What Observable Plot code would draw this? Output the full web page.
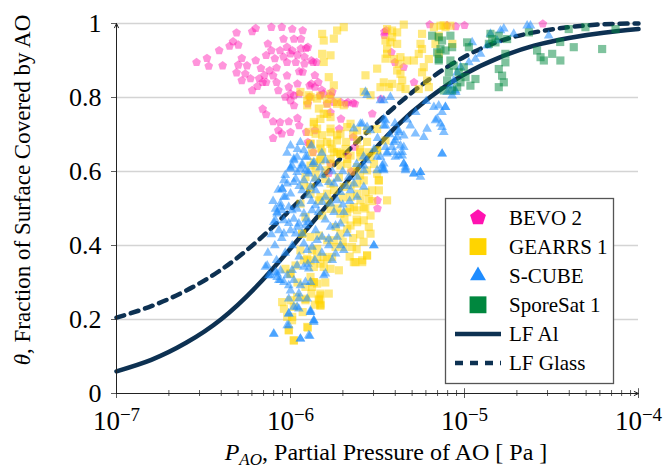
<!DOCTYPE html>
<html><head><meta charset="utf-8">
<script src="https://cdn.jsdelivr.net/npm/d3@7"></script>
<script src="https://cdn.jsdelivr.net/npm/@observablehq/plot@0.6"></script>
<style>
body{margin:0;background:#fff;}
#chart{position:relative;width:664px;height:468px;}
</style></head><body><div id="chart"></div>
<script>
// ---------- data (log10 P [Pa], theta) ----------
const xTicks = [1e-7, 1e-6, 1e-5, 1e-4];
const xMinor = [2e-7,3e-7,4e-7,5e-7,6e-7,7e-7,8e-7,9e-7,2e-6,3e-6,4e-6,5e-6,6e-6,7e-6,8e-6,9e-6,2e-5,3e-5,4e-5,5e-5,6e-5,7e-5,8e-5,9e-5];
const yTicks = [0, 0.2, 0.4, 0.6, 0.8, 1];
const gridY = [0.2, 0.4, 0.6, 0.8, 1];
const legendLabels = ["BEVO 2", "GEARRS 1", "S-CUBE", "SporeSat 1", "LF Al", "LF Glass"];

const lfAl = [[-7.0,0.06],[-6.8,0.091],[-6.6,0.137],[-6.4,0.20],[-6.2,0.287],[-6.0,0.392],[-5.8,0.503],[-5.6,0.615],[-5.4,0.718],[-5.2,0.80],[-5.0,0.863],[-4.8,0.908],[-4.6,0.94],[-4.4,0.961],[-4.2,0.975],[-4.0,0.985]];
const lfGlass = [[-7.0,0.205],[-6.8,0.236],[-6.6,0.278],[-6.4,0.334],[-6.2,0.408],[-6.0,0.497],[-5.8,0.593],[-5.6,0.688],[-5.4,0.775],[-5.2,0.85],[-5.0,0.91],[-4.8,0.952],[-4.6,0.976],[-4.4,0.99],[-4.2,0.998],[-4.0,1.0]];

const bevo2 = [
[-6.54,0.895],[-6.48,0.906],[-6.47,0.885],[-6.41,0.927],[-6.39,0.886],[-6.35,0.939],[-6.33,0.951],[-6.31,0.975],[-6.30,0.942],[-6.28,0.906],[-6.31,0.867],[-6.30,0.888],[-6.28,0.846],[-6.25,0.886],[-6.26,0.864],[-6.22,0.978],[-6.20,0.987],[-6.22,0.819],[-6.23,0.851],[-6.20,0.900],[-6.17,0.879],[-6.18,0.851],[-6.16,0.841],[-6.14,0.841],[-6.14,0.914],[-6.13,0.945],[-6.11,0.990],[-6.12,0.873],[-6.11,0.927],[-6.10,0.859],[-6.08,0.841],[-6.07,0.819],[-6.06,0.927],[-6.05,0.990],[-6.04,0.958],[-6.02,0.936],[-6.02,0.895],[-6.02,0.859],[-6.01,0.828],[-6.00,0.918],[-5.99,0.985],[-5.98,0.958],[-5.99,0.927],[-5.97,0.895],[-5.96,0.837],[-5.95,0.810],[-5.98,0.805],[-6.00,0.792],[-5.94,0.958],[-5.93,0.981],[-5.94,0.932],[-5.92,0.891],[-5.91,0.933],[-5.93,0.869],[-5.90,0.936],[-5.89,0.832],[-5.88,0.900],[-5.87,0.895],[-5.88,0.837],[-5.86,0.828],[-5.84,0.841],[-5.85,0.895],[-5.83,0.805],[-5.81,0.810],[-5.79,0.783],[-5.77,0.805],[-5.76,0.815],[-5.75,0.787],[-5.71,0.787],[-5.68,0.783],[-5.67,0.787],[-5.64,0.785],[-5.71,0.742],[-5.53,0.756],[-5.48,0.796],[-5.46,0.968],[-5.45,0.981],
[-6.16,0.769],[-6.14,0.754],[-6.10,0.735],[-6.06,0.733],[-6.01,0.735],[-6.00,0.706],[-6.07,0.711],[-6.05,0.702],[-6.10,0.690],[-5.96,0.744],[-5.95,0.724],[-5.91,0.706],[-5.90,0.679],[-5.89,0.675],[-5.86,0.711],[-5.87,0.652],[-5.77,0.760],[-5.72,0.715],[-5.90,0.783],[-5.98,0.778],[-6.00,0.810],[-6.03,0.801],[-5.89,0.801],
[-5.77,0.621],[-5.67,0.643],[-5.63,0.666],[-5.50,0.522],[-5.50,0.500],[-5.78,0.595],[-5.65,0.600],[-5.64,0.693],
[-5.10,0.995],[-5.05,0.992],[-5.00,0.995],[-4.55,0.999],[-5.20,0.997],[-5.46,0.977],[-5.42,0.922],[-5.40,0.895],[-5.35,0.882],[-5.29,0.841],[-5.63,0.783],
[-6.09,0.905],[-6.04,0.91],[-5.96,0.915],[-5.92,0.91],[-6.08,0.88],[-5.95,0.87],[-6.15,0.86],[-5.86,0.86],[-5.82,0.82],[-6.19,0.83]
];

const gearrs1 = [
[-5.876,0.652],[-5.818,0.652],[-5.751,0.652],[-5.713,0.648],[-5.655,0.643],[-5.598,0.639],[-5.550,0.652],[-5.502,0.657],[-5.866,0.625],[-5.828,0.630],[-5.770,0.621],[-5.713,0.616],[-5.674,0.621],[-5.617,0.612],[-5.560,0.603],[-5.492,0.576],[-5.492,0.549],[-5.579,0.576],[-5.617,0.567],[-5.655,0.562],[-5.694,0.558],[-5.655,0.531],[-5.617,0.540],[-5.569,0.544],[-5.531,0.549],[-5.550,0.526],[-5.598,0.522],[-5.636,0.504],[-5.617,0.495],[-5.674,0.490],[-5.713,0.486],[-5.579,0.504],[-5.540,0.481],[-5.579,0.468],[-5.617,0.463],[-5.655,0.454],[-5.674,0.445],[-5.713,0.432],[-5.751,0.414],[-5.741,0.396],[-5.694,0.396],[-5.646,0.396],[-5.761,0.369],[-5.809,0.369],[-5.828,0.351],[-5.770,0.337],[-5.722,0.333],[-5.866,0.342],[-5.904,0.364],[-5.876,0.387],[-5.943,0.387],[-5.923,0.360],[-5.971,0.346],[-6.0,0.324],[-6.029,0.337],[-5.885,0.315],[-5.914,0.288],[-5.847,0.297],[-5.876,0.288],[-5.828,0.270],[-5.828,0.243],[-5.837,0.256],[-5.962,0.261],[-6.0,0.252],[-6.048,0.247],[-6.038,0.229],[-5.981,0.234],[-6.019,0.207],[-5.991,0.198],[-6.010,0.171],[-5.981,0.143],[-5.904,0.180],[-5.627,0.355],[-5.588,0.360],[-5.560,0.373],[-5.540,0.432],[-5.847,0.391],[-5.789,0.414],[-5.818,0.481],[-5.770,0.499],[-5.856,0.585],[-5.923,0.562],[-5.856,0.607],[-5.799,0.603],[-5.722,0.585],[-5.770,0.567],[-5.885,0.540],[-5.943,0.513],[-5.837,0.522],[-5.789,0.540],[-5.502,0.594],[-5.933,0.432],
[-5.885,0.801],[-5.828,0.805],[-5.780,0.796],[-5.732,0.783],[-5.866,0.729],[-5.828,0.742],[-5.789,0.756],[-5.770,0.747],[-5.856,0.702],[-5.885,0.675],[-5.828,0.675],[-5.770,0.706],[-5.770,0.675],[-5.732,0.684],[-5.713,0.702],[-5.674,0.720],[-5.655,0.729],[-5.617,0.711],[-5.617,0.684],[-5.560,0.711],[-5.502,0.715],[-5.454,0.684],[-5.502,0.657],[-5.540,0.639],[-5.598,0.652],[-5.684,0.661],[-5.713,0.648],[-5.674,0.634],[-5.770,0.634],[-5.828,0.634],[-5.885,0.616],[-5.914,0.585],[-5.885,0.558],[-5.493,0.576],[-5.445,0.522],[-5.943,0.815],[-5.904,0.792],
[-5.818,0.972],[-5.809,0.954],[-5.751,0.959],[-5.732,0.981],[-5.694,0.990],[-5.818,0.918],[-5.770,0.914],[-5.809,0.896],[-5.780,0.855],[-5.751,0.833],[-5.770,0.810],[-5.895,0.806],[-5.847,0.797],[-5.904,0.779],[-5.837,0.770],[-5.790,0.783],[-5.732,0.788],[-5.694,0.779],[-5.809,0.756],[-5.866,0.734],[-5.847,0.716],[-5.895,0.707],[-5.818,0.698],[-5.770,0.716],[-5.732,0.698],[-5.790,0.680],[-5.885,0.675],[-5.828,0.662],[-5.761,0.662],[-5.732,0.653],[-5.569,0.860],[-5.502,0.878],[-5.483,0.828],[-5.454,0.905],[-5.445,0.932],[-5.435,0.828],[-5.579,0.815],[-5.540,0.806],
[-5.445,0.985],[-5.416,0.981],[-5.387,0.976],[-5.349,0.997],[-5.454,0.954],[-5.426,0.949],[-5.387,0.945],[-5.445,0.918],[-5.406,0.904],[-5.368,0.909],[-5.330,0.900],[-5.291,0.900],[-5.263,0.918],[-5.253,0.945],[-5.244,0.931],[-5.205,0.904],[-5.176,0.990],[-5.138,0.994],[-5.109,0.990],[-5.148,0.967],[-5.167,0.945],[-5.148,0.918],[-5.234,0.882],[-5.387,0.873],[-5.368,0.864],[-5.358,0.846],[-5.416,0.837],[-5.464,0.841],[-5.368,0.828],[-5.339,0.823],[-5.244,0.868],[-5.215,0.846],[-5.205,0.828],[-5.378,0.891],[-5.263,0.823],[-5.081,0.994],[-5.244,0.972],[-5.416,0.963],[-5.12,0.995],[-5.07,0.945],
[-5.866,0.301],[-5.914,0.252],[-5.837,0.252],[-5.828,0.238],[-5.900,0.178],[-5.636,0.355],[-5.588,0.355],[-5.560,0.373],
[-5.990,0.207],[-6.010,0.171],[-5.981,0.144],[-5.914,0.256],[-5.866,0.301],[-5.828,0.265],[-5.828,0.238],[-5.809,0.342],[-5.847,0.369],[-5.885,0.360],[-5.789,0.364],[-5.885,0.423],[-5.837,0.427],[-5.933,0.432],[-5.914,0.477],[-5.828,0.531],[-6.0,0.324],
[-5.80,0.58],[-5.75,0.55],[-5.70,0.53],[-5.66,0.50],[-5.62,0.47],[-5.60,0.43],[-5.64,0.42],[-5.69,0.47],[-5.73,0.50],[-5.78,0.52],[-5.74,0.45],[-5.70,0.41],[-5.66,0.37],[-5.62,0.39],[-5.58,0.41],[-5.55,0.45],[-5.57,0.50],[-5.53,0.52],[-5.60,0.59],[-5.65,0.60],[-5.68,0.68],[-5.64,0.70],[-5.60,0.66],[-5.56,0.68],[-5.52,0.62],[-5.88,0.27],[-5.93,0.22],[-5.86,0.24],[-5.96,0.30],[-5.80,0.30],[-5.78,0.27]
];

const scube = [
[-5.981,0.634],[-5.933,0.621],[-5.943,0.607],[-5.914,0.639],[-5.923,0.657],[-5.991,0.616],[-5.962,0.598],
[-5.483,0.639],[-5.473,0.616],[-5.502,0.603],[-5.464,0.603],[-5.445,0.648],[-5.406,0.652],[-5.358,0.643],[-5.349,0.621],[-5.339,0.607],[-5.291,0.594],[-5.253,0.598],[-5.128,0.648],[-5.579,0.616],[-5.560,0.630],
[-6.038,0.576],[-6.048,0.553],[-6.019,0.567],[-5.981,0.571],[-6.0,0.540],[-6.029,0.531],[-6.058,0.513],[-6.086,0.499],[-6.077,0.486],[-6.096,0.463],[-6.048,0.495],[-6.038,0.468],[-6.010,0.504],[-5.991,0.495],[-5.962,0.499],[-5.943,0.513],[-5.923,0.486],[-5.981,0.472],[-5.952,0.459],[-5.914,0.454],[-6.038,0.432],[-6.067,0.441],[-6.0,0.441],[-5.971,0.432],[-5.933,0.432],[-5.895,0.463],[-5.876,0.495],[-5.856,0.508],[-5.818,0.517],[-5.799,0.531],[-5.770,0.513],[-5.732,0.522],[-5.713,0.544],[-5.751,0.567],[-5.780,0.571],[-5.818,0.589],[-5.837,0.567],[-5.856,0.549],[-5.895,0.535],[-5.885,0.558],[-5.933,0.549],[-5.923,0.576],[-5.694,0.490],[-5.713,0.459],[-5.741,0.454],[-5.770,0.450],[-5.780,0.418],[-5.818,0.423],[-5.847,0.414],[-5.876,0.396],[-5.904,0.387],[-5.923,0.405],[-5.856,0.441],[-5.732,0.423],[-5.713,0.400],[-5.694,0.387],[-5.741,0.378],[-5.674,0.432],[-5.655,0.549],[-5.636,0.567],[-5.617,0.531],[-5.665,0.585],[-5.579,0.558],[-5.521,0.400],
[-6.144,0.342],[-6.125,0.319],[-6.077,0.324],[-6.058,0.306],[-6.019,0.319],[-5.991,0.333],[-5.962,0.346],[-5.923,0.342],[-5.895,0.337],[-5.981,0.306],[-6.010,0.292],[-5.943,0.292],[-5.914,0.301],[-5.885,0.301],[-5.809,0.319],[-5.952,0.270],[-5.904,0.256],[-5.962,0.234],[-6.010,0.216],[-6.019,0.184],[-5.981,0.234],[-5.885,0.220],[-5.866,0.193],[-6.096,0.162],[-5.943,0.148],[-5.895,0.157],
[-6.0,0.670],[-5.943,0.679],[-5.981,0.630],[-5.588,0.729],[-5.560,0.720],[-5.454,0.724],[-5.464,0.742],[-5.378,0.711],[-5.397,0.684],[-5.349,0.666],[-5.378,0.643],[-5.339,0.612],[-5.502,0.639],[-5.464,0.607],[-5.579,0.603],[-5.569,0.815],[-5.464,0.792],[-5.962,0.639],[-5.933,0.616],[-6.0,0.607],[-5.914,0.603],[-5.895,0.594],[-5.617,0.585],
[-5.176,0.774],[-5.148,0.778],[-5.109,0.774],[-5.129,0.760],[-5.157,0.742],[-5.167,0.738],[-5.138,0.729],[-5.129,0.720],[-5.119,0.706],[-5.215,0.715],[-5.234,0.693],[-5.282,0.702],[-5.311,0.724],[-5.349,0.697],[-5.378,0.706],[-5.387,0.693],[-5.406,0.679],[-5.416,0.666],[-5.454,0.666],[-5.464,0.724],[-5.454,0.738],[-5.368,0.670],[-5.358,0.652],[-5.397,0.639],[-5.445,0.652],[-5.464,0.621],[-5.473,0.607],[-5.349,0.621],[-5.339,0.603],[-5.291,0.594],[-5.253,0.598],[-5.253,0.585],[-5.129,0.648],
[-4.793,0.981],[-4.774,0.986],[-4.851,0.972],[-4.813,0.954],[-4.717,0.972],[-4.870,0.940],[-4.908,0.918],[-4.937,0.904],[-4.975,0.895],[-5.023,0.882],[-5.042,0.868],[-5.062,0.846],[-5.081,0.832],[-5.100,0.814],[-5.052,0.819],[-5.071,0.805],[-4.640,0.994],[-4.621,0.994],[-4.516,0.967],[-4.956,0.949],[-5.426,0.801],[-5.08,0.819],[-5.05,0.814],[-5.11,0.774],
[-5.904,0.639],[-5.866,0.625],[-5.598,0.729],[-5.560,0.806],[-5.483,0.792],[-5.636,0.716],[-5.541,0.711],
[-6.134,0.346],[-6.086,0.328],[-6.067,0.306],[-6.010,0.256],[-5.952,0.256],[-5.952,0.229],[-5.885,0.220],[-6.010,0.216],[-5.866,0.198],[-6.010,0.184],[-6.096,0.160],[-5.943,0.148],[-5.889,0.155],[-5.521,0.400],[-5.799,0.324],
[-6.115,0.319],[-6.077,0.314],[-6.057,0.332],[-6.038,0.301],[-6.086,0.468],[-6.077,0.490],[-6.057,0.504],[-6.038,0.531],[-6.048,0.553],[-6.0,0.278],[-5.885,0.224],[-5.866,0.197],
[-6.10,0.52],[-6.07,0.55],[-6.03,0.59],[-6.0,0.61],[-5.97,0.58],[-5.95,0.56],[-5.90,0.60],[-5.87,0.62],[-5.86,0.58],[-5.83,0.61],[-5.80,0.63],[-5.76,0.60],[-5.73,0.58],[-5.70,0.60],[-5.68,0.56],[-5.66,0.52],[-5.70,0.51],[-5.75,0.49],[-5.80,0.47],[-5.84,0.49],[-5.88,0.52],[-5.91,0.47],[-5.96,0.45],[-6.01,0.46],[-6.05,0.42],[-6.09,0.40],[-6.11,0.43],[-6.13,0.38],[-6.08,0.36],[-6.03,0.38],[-5.99,0.40],[-5.95,0.37],[-5.90,0.35],[-5.86,0.36],[-5.82,0.38],[-5.78,0.40],[-5.76,0.36],[-6.02,0.65],[-5.96,0.66],[-5.88,0.67],[-5.82,0.65],[-5.62,0.62],[-5.58,0.64],[-5.52,0.66],[-5.50,0.69],[-5.43,0.70],[-5.40,0.73],[-5.33,0.74],[-5.28,0.76],[-5.22,0.79]
];

const sporesat1 = [
[-5.186,0.967],[-5.148,0.963],[-5.129,0.954],[-5.081,0.967],[-5.138,0.931],[-5.157,0.922],[-5.148,0.904],[-5.109,0.927],[-5.081,0.900],[-5.071,0.936],[-5.062,0.886],[-5.090,0.868],[-5.100,0.846],[-5.033,0.868],[-4.985,0.949],[-4.975,0.936],[-5.004,0.882],[-4.994,0.855],[-5.023,0.841],[-4.937,0.850],[-4.966,0.832],[-4.851,0.972],[-4.841,0.958],[-4.860,0.945],[-4.822,0.949],[-4.803,0.967],[-4.755,0.958],[-4.765,0.918],[-4.765,0.895],[-4.803,0.877],[-4.784,0.859],[-4.774,0.841],[-4.803,0.828],[-4.630,0.976],[-4.583,0.927],[-4.563,0.909],[-4.544,0.900],[-4.496,0.918],[-4.449,0.900],[-4.401,0.985],[-4.372,0.936],[-4.305,0.990],[-4.209,0.931],[-4.132,0.985],[-5.119,0.819],[-5.071,0.819],[-5.042,0.828],[-5.148,0.900],[-4.45,0.95]
];

// ---------- styling ----------
const C = {bevo:"#ff12b0", gearrs:"#ffd400", scube:"#1e8cff", spore:"#00873e", lf:"#0d3152", axis:"#333"};
const FONT = "'Liberation Serif', 'Times New Roman', serif";
const rows = arr => arr.map(([lp, t]) => ({P: Math.pow(10, lp), theta: t}));

const pentagon = {
  draw(context, size) {
    const r = Math.sqrt(size / 2.3776);
    for (let i = 0; i < 5; i++) {
      const a = -Math.PI / 2 + i * 2 * Math.PI / 5;
      const x = r * Math.cos(a), y = r * Math.sin(a);
      if (i === 0) context.moveTo(x, y); else context.lineTo(x, y);
    }
    context.closePath();
  }
};

const xDom = [xTicks[0], xTicks[xTicks.length - 1]];
const axesArrows = [
  {x1: xDom[0], y1: 0, x2: xDom[0], y2: 1},
  {x1: xDom[0], y1: 0, x2: xDom[1], y2: 0}
];
const supFmt = d => String(Math.round(Math.log10(d))).replace("-", "\u2212");

const plot = Plot.plot({
  width: 664, height: 468,
  marginLeft: 116, marginRight: 26, marginTop: 23, marginBottom: 75,
  style: {fontFamily: FONT, fontSize: "26px", color: "#000", background: "#fff", overflow: "visible"},
  x: {type: "log", domain: xDom},
  y: {domain: [0, 1]},
  marks: [
    Plot.ruleY(gridY, {stroke: "#d4d4d4", strokeWidth: 1.5}),
    Plot.line(rows(lfAl), {x: "P", y: "theta", stroke: C.lf, strokeWidth: 4.5, curve: "natural"}),
    Plot.line(rows(lfGlass), {x: "P", y: "theta", stroke: C.lf, strokeWidth: 4.5, strokeDasharray: "8,7", curve: "natural"}),
    Plot.dot(rows(bevo2), {x: "P", y: "theta", symbol: pentagon, r: 4.0, fill: C.bevo, fillOpacity: 0.45, stroke: "none"}),
    Plot.dot(rows(gearrs1), {x: "P", y: "theta", symbol: "square", r: 4.6, fill: C.gearrs, fillOpacity: 0.5, stroke: "none"}),
    Plot.dot(rows(scube), {x: "P", y: "theta", symbol: "triangle", r: 3.6, fill: C.scube, fillOpacity: 0.55, stroke: "none"}),
    Plot.dot(rows(sporesat1), {x: "P", y: "theta", symbol: "square", r: 4.6, fill: C.spore, fillOpacity: 0.5, stroke: "none"}),
    Plot.ruleX(xMinor, {y1: 0, y2: 0.008, stroke: C.axis, strokeWidth: 0.8}),
    Plot.ruleX(xTicks, {y1: 0, y2: 0.013, stroke: C.axis, strokeWidth: 0.8}),
    Plot.axisX({ticks: xMinor, tickFormat: () => "", tickSize: 3, label: null, stroke: C.axis, strokeWidth: 0.8}),
    Plot.axisX({ticks: xTicks, tickFormat: supFmt, tickSize: 5, tickPadding: 12, label: null, stroke: C.axis, strokeWidth: 0.8, fontSize: 27, fill: "#000"}),
    Plot.axisY({ticks: yTicks, tickFormat: d => String(d), tickSize: 5, tickPadding: 10, label: null, stroke: C.axis, strokeWidth: 0.8, fontSize: 26, fill: "#000"}),
    Plot.arrow(axesArrows, {x1: "x1", y1: "y1", x2: "x2", y2: "y2", stroke: "#222", strokeWidth: 1, headLength: 7, headAngle: 50})
  ]
});

document.getElementById("chart").appendChild(plot);
const svg = d3.select(plot);

// superscript exponents on x tick labels
svg.selectAll('g[aria-label="x-axis tick label"] text').each(function () {
  const t = this.textContent;
  if (!t) return;
  const el = d3.select(this);
  el.text(null);
  el.append("tspan").text("10");
  el.append("tspan").attr("dy", "-8.5").attr("font-size", "19px").text(t);
});

// axis titles
const yt = svg.append("text")
  .attr("transform", "translate(22,190) rotate(-90)")
  .attr("text-anchor", "middle").attr("dy", "0.35em")
  .attr("font-family", FONT).attr("font-size", 23).attr("fill", "#000");
yt.append("tspan").attr("font-style", "italic").text("\u03B8");
yt.append("tspan").text(", Fraction of Surface Covered by AO");

const xt = svg.append("text")
  .attr("x", 386).attr("y", 460)
  .attr("text-anchor", "middle")
  .attr("font-family", FONT).attr("font-size", 24).attr("fill", "#000");
xt.append("tspan").attr("font-style", "italic").text("P");
xt.append("tspan").attr("font-style", "italic").attr("font-size", 17).attr("dy", "5").text("AO");
xt.append("tspan").attr("dy", "-5").text(", Partial Pressure of AO [ Pa ]");

// legend
const lg = svg.append("g").attr("font-family", FONT).attr("font-size", 21).attr("text-anchor", "start");
lg.append("rect").attr("x", 445.5).attr("y", 198.5).attr("width", 168).attr("height", 185)
  .attr("fill", "#fff").attr("stroke", "#555").attr("stroke-width", 1.3);
const legendSym = [
  {type: pentagon, size: 165, fill: C.bevo},
  {type: d3.symbolSquare, size: 285, fill: C.gearrs},
  {type: d3.symbolTriangle, size: 110, fill: C.scube},
  {type: d3.symbolSquare, size: 285, fill: C.spore},
  {line: "solid"},
  {line: "dash"}
];
legendLabels.forEach((lab, i) => {
  const cy = 217.5 + i * 29.1;
  const s = legendSym[i];
  if (s.type) {
    lg.append("path").attr("d", d3.symbol(s.type, s.size)()).attr("transform", `translate(478,${cy})`).attr("fill", s.fill);
  } else {
    lg.append("line").attr("x1", 455).attr("x2", 501).attr("y1", cy).attr("y2", cy)
      .attr("stroke", C.lf).attr("stroke-width", 4.5)
      .attr("stroke-dasharray", s.line === "dash" ? "8,7" : null);
  }
  lg.append("text").attr("x", 509).attr("y", cy).attr("dy", "0.35em").attr("text-anchor", "start").attr("fill", "#000").text(lab);
});
</script>
</body></html>
